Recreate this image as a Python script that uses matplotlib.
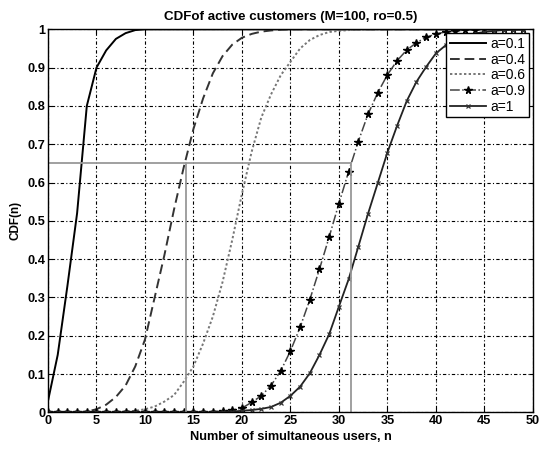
import matplotlib
matplotlib.use("Agg")
import matplotlib.pyplot as plt
import numpy as np

plt.rcParams['font.family'] = ['Liberation Sans', 'DejaVu Sans']

n = list(range(0, 50))

cdf_a01 = [0.03, 0.15, 0.33, 0.52, 0.80, 0.90, 0.945, 0.975, 0.99, 0.998] + [1.0] * 40

cdf_a04 = [0, 0, 0, 0, 0.002, 0.008, 0.02, 0.04, 0.07, 0.12,
           0.19, 0.30, 0.41, 0.53, 0.64, 0.74, 0.82, 0.885, 0.93, 0.96,
           0.978, 0.988, 0.994, 0.997, 0.999] + [1.0] * 25

cdf_a06 = [0, 0, 0, 0, 0, 0, 0, 0.001, 0.002, 0.004,
           0.008, 0.015, 0.028, 0.045, 0.08, 0.12, 0.18, 0.25, 0.34, 0.45,
           0.57, 0.68, 0.77, 0.83, 0.88, 0.915, 0.95, 0.972, 0.985, 0.993,
           0.996, 0.998, 0.999] + [1.0] * 17

cdf_a09 = [0] * 15 + [0.0005, 0.001, 0.002, 0.003, 0.006,
           0.011, 0.026, 0.043, 0.07, 0.108, 0.16, 0.222, 0.294, 0.374, 0.458,
           0.545, 0.628, 0.707, 0.778, 0.834, 0.881, 0.918, 0.946, 0.965, 0.979,
           0.988, 0.993, 0.996, 0.998, 0.999, 1.0, 1.0, 1.0, 1.0, 1.0]

cdf_a1 = [0] * 17 + [0.0005, 0.001, 0.002,
          0.004, 0.006, 0.009, 0.014, 0.025, 0.043, 0.067, 0.102, 0.150, 0.204,
          0.276, 0.347, 0.432, 0.518, 0.598, 0.678, 0.748, 0.813, 0.863, 0.902,
          0.937, 0.958, 0.972, 0.982, 0.989, 0.993, 0.996, 0.998, 0.999, 0.9995]

labels = ['a=0.1', 'a=0.4', 'a=0.6', 'a=0.9', 'a=1']

ref_level = 0.65
ref_n1 = 14.2
ref_n2 = 31.3

title = 'CDFof active customers (M=100, ro=0.5)'
xlabel = 'Number of simultaneous users, n'
ylabel = 'CDF(n)'

fig = plt.figure(figsize=(5.42, 4.49), dpi=100)
ax = fig.add_axes([0.0886, 0.0817, 0.8944, 0.853])

fs = 9.2
fw = 'bold'

ax.plot(n, cdf_a01, color='black', lw=1.4, ls='-', label=labels[0])
ax.plot(n, cdf_a04, color='#333333', lw=1.4, ls=(0, (5, 2.5)), label=labels[1])
ax.plot(n, cdf_a06, color='#777777', lw=1.4, ls=(0, (1.2, 1.2)), label=labels[2])
ax.plot(n, cdf_a09, color='#444444', lw=1.1, ls='-.', marker='*', ms=5.5,
        mfc='black', mec='black', label=labels[3])
ax.plot(n, cdf_a1, color='#222222', lw=1.3, ls='-', marker='x', ms=3.5,
        mew=0.9, mec='#333333', label=labels[4])

# reference lines
ax.plot([0, ref_n2], [ref_level, ref_level], color='#999999', lw=1.3)
ax.plot([ref_n1, ref_n1], [0, ref_level], color='#999999', lw=1.3)
ax.plot([ref_n2, ref_n2], [0, ref_level], color='#999999', lw=1.3)

ax.set_xlim(0, 50)
ax.set_ylim(0, 1)
ax.set_xticks(np.arange(0, 51, 5))
ax.set_yticks(np.arange(0, 1.01, 0.1))
ax.set_yticklabels(['0', '0.1', '0.2', '0.3', '0.4', '0.5', '0.6', '0.7', '0.8', '0.9', '1'])
ax.grid(True, color='black', ls=(0, (1, 2, 3, 2)), lw=0.8)
ax.tick_params(direction='in', top=True, right=True, length=3, labelsize=fs, pad=2)
for lab in ax.get_xticklabels() + ax.get_yticklabels():
    lab.set_fontweight(fw)
for sp in ax.spines.values():
    sp.set_linewidth(1.0)

ax.set_title(title, fontsize=9.6, fontweight=fw, pad=7)
ax.set_xlabel(xlabel, fontsize=fs, fontweight=fw, labelpad=3)
ax.set_ylabel(ylabel, fontsize=8.5, fontweight=fw, labelpad=4)

leg = ax.legend(loc='upper right', fontsize=10, frameon=True, fancybox=False,
                edgecolor='black', framealpha=1, borderpad=0.25, labelspacing=0.12,
                handlelength=2.6, handletextpad=0.3, borderaxespad=0.3)
leg.get_frame().set_linewidth(1.0)

fig.savefig('out.png', dpi=100)
